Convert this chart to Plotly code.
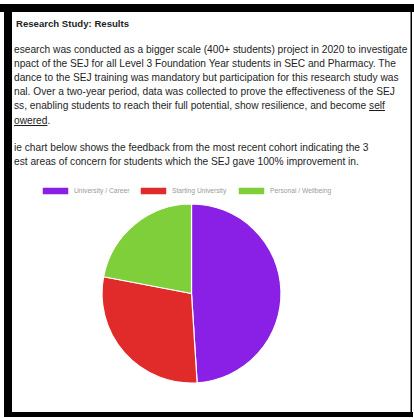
import plotly.graph_objects as go

# Feedback from the most recent cohort: share of students per area of concern
categories = ["University / Career", "Starting University", "Personal / Wellbeing"]
shares = [49, 29, 22]
colors = ["#8a1fe6", "#e12b2b", "#7fcf3a"]

title_text = "Research Study: Results"
paragraph_1 = [
    "esearch was conducted as a bigger scale (400+ students) project in 2020 to investigate",
    "npact of the SEJ for all Level 3 Foundation Year students in SEC and Pharmacy. The",
    "dance to the SEJ training was mandatory but participation for this research study was",
    "nal. Over a two-year period, data was collected to prove the effectiveness of the SEJ",
    "ss, enabling students to reach their full potential, show resilience, and become <u>self</u>",
    "<u>owered</u>.",
]
paragraph_2 = [
    "ie chart below shows the feedback from the most recent cohort indicating the 3",
    "est areas of concern for students which the SEJ gave 100% improvement in.",
]

W, H = 414, 418


def px(x):
    return x / W


def py(y):
    return 1 - y / H


fig = go.Figure()

# Pie: clockwise from 12 o'clock, white separators between slices
cx, cy, r = 191.5, 293.5, 89.5
fig.add_trace(
    go.Pie(
        labels=categories,
        values=shares,
        sort=False,
        direction="clockwise",
        rotation=0,
        marker=dict(colors=colors, line=dict(color="white", width=1.2)),
        textinfo="none",
        hoverinfo="label+percent",
        domain=dict(x=[px(cx - r), px(cx + r)], y=[py(cy + r), py(cy - r)]),
        showlegend=False,
    )
)

text_font = dict(family="Liberation Sans, Arial, sans-serif", size=10.2, color="#1e1e1e")
annotations = []
shapes = []

# Document text
annotations.append(dict(
    text=f"<b>{title_text}</b>", x=px(14), y=py(23), xref="paper", yref="paper",
    xanchor="left", yanchor="middle", showarrow=False,
    font=dict(family="Liberation Sans, Arial, sans-serif", size=9.6, color="#1e1e1e"),
))
line_y = 49
for line in paragraph_1:
    annotations.append(dict(
        text=line, x=px(12), y=py(line_y), xref="paper", yref="paper",
        xanchor="left", yanchor="middle", showarrow=False, font=text_font,
    ))
    line_y += 14.2
line_y = 147
for line in paragraph_2:
    annotations.append(dict(
        text=line, x=px(12), y=py(line_y), xref="paper", yref="paper",
        xanchor="left", yanchor="middle", showarrow=False, font=text_font,
    ))
    line_y += 14

# Legend row: wide colour swatch followed by a grey label
legend_y = 191
swatch_w, swatch_h = 25, 6
label_widths = [62, 62, 68]
x = 43
for name, col, lw in zip(categories, colors, label_widths):
    shapes.append(dict(
        type="rect", xref="paper", yref="paper",
        x0=px(x), x1=px(x + swatch_w), y0=py(legend_y + swatch_h / 2), y1=py(legend_y - swatch_h / 2),
        fillcolor=col, line=dict(color=col, width=0.5), layer="above",
    ))
    annotations.append(dict(
        text=name, x=px(x + swatch_w + 4), y=py(legend_y), xref="paper", yref="paper",
        xanchor="left", yanchor="middle", showarrow=False,
        font=dict(family="Liberation Sans, Arial, sans-serif", size=6.7, color="#9a9a9a"),
    ))
    x += swatch_w + 4 + lw + 7

# Black page frame
frame = [
    (0, 4, W, 12),        # top band
    (4, 4, 12, 417),      # left band
    (4, 412, 413, 417),   # bottom band
    (410.5, 4, 412, 417), # right edge
]
for x0, y0, x1, y1 in frame:
    shapes.append(dict(
        type="rect", xref="paper", yref="paper",
        x0=px(x0), x1=px(x1), y0=py(y1), y1=py(y0),
        fillcolor="black", line=dict(width=0), layer="above",
    ))

fig.update_layout(
    width=W, height=H,
    margin=dict(l=0, r=0, t=0, b=0),
    paper_bgcolor="white",
    plot_bgcolor="white",
    annotations=annotations,
    shapes=shapes,
    showlegend=False,
)

fig.write_html("out.html")
